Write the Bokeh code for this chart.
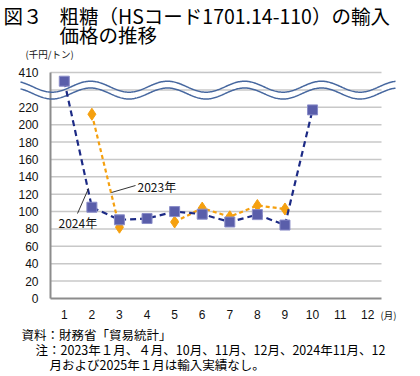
import numpy as np
from bokeh.plotting import figure
from bokeh.models import Range1d
from bokeh.core.properties import value
from bokeh.embed import file_html
from bokeh.resources import INLINE

# ---------------- data ----------------
months = [1, 2, 3, 4, 5, 6, 7, 8, 9, 10, 11, 12]
month_labels = ["1", "2", "3", "4", "5", "6", "7", "8", "9", "10", "11", "12"]
price_2024 = [400, 105, 90.5, 92, 100, 97, 88, 96.5, 84.5, 217, np.nan, np.nan]
price_2023 = [np.nan, 212, 82, np.nan, 88, 104, 94, 107, 103, np.nan, np.nan, np.nan]
ytick_values = [0, 20, 40, 60, 80, 100, 120, 140, 160, 180, 200, 220, 410]
series_names = ["2023年", "2024年"]

title_num = "図３"
title_line1 = "粗糖（HSコード1701.14-110）の輸入"
title_line2 = "価格の推移"
unit_label = "(千円/トン)"
month_unit = "(月)"
note_lines = ["資料：財務省「貿易統計」",
              "注：2023年１月、４月、10月、11月、12月、2024年11月、12",
              "月および2025年１月は輸入実績なし。"]

# ---------------- layout helpers ----------------
BREAK_LO, BREAK_TOP_VAL, BREAK_TOP_DISP = 240, 410, 260


def disp(v):
    """broken axis: values above the break are shifted down"""
    v = np.asarray(v, dtype=float)
    return np.where(v > BREAK_LO, BREAK_TOP_DISP - (BREAK_TOP_VAL - v), v)


PX_W = 331 / 12.0        # pixels per month
PX_H = 226 / 260.0       # pixels per unit


def X(px):
    return 0.5 + (np.asarray(px, dtype=float) - 50) / PX_W


def Y(py):
    return (298 - np.asarray(py, dtype=float)) / PX_H


W, H = 420, 376
p = figure(width=W, height=H, output_backend="svg", toolbar_location=None,
           x_axis_type=None, y_axis_type=None, min_border=0,
           x_range=Range1d(float(X(0)), float(X(W))),
           y_range=Range1d(float(Y(H)), float(Y(0))))
p.grid.visible = False
p.outline_line_color = None
p.background_fill_color = "white"
p.border_fill_color = "white"

JP = value("Noto Sans CJK JP")
NUM = value("Liberation Sans")

# gridlines
grid_disp = list(range(20, 261, 20))
p.segment(x0=[0.5] * len(grid_disp), x1=[12.5] * len(grid_disp),
          y0=grid_disp, y1=grid_disp, line_color="#c8c8c8", line_width=1.5)
# axis lines
p.segment(x0=[0.5, 0.5], x1=[0.5, 12.5], y0=[0, 0], y1=[260, 0],
          line_color="#8c8c8c", line_width=2)

# wave (axis break)
wx = np.linspace(20, 395, 400)
upper = 86.2 - 5.5 * np.cos(2 * np.pi * (wx - 90) / 77.0)
lower = upper + 6.8
for yy in (upper, lower):
    p.line(X(wx), Y(yy), line_color="#46679f", line_width=1.5)

# series 2023
p.line(months, disp(price_2023), line_color="#f5a00f", line_width=2.2, line_dash="4 3")
p.scatter(months, disp(price_2023), marker="diamond", size=12,
          fill_color="#f5a00f", line_color="#f5a00f")
# series 2024
p.line(months, disp(price_2024), line_color="#1c2a85", line_width=2.2, line_dash="6 4")
p.scatter(months, disp(price_2024), marker="square", size=10,
          fill_color="#5a5eaa", line_color="#8a8dc8", line_width=1)

# leader lines and series labels
p.segment(x0=X([135, 77]), y0=Y([185, 213]), x1=X([111, 88]), y1=Y([192, 188]),
          line_color="#333333", line_width=1)
p.text(x=X([137, 58]), y=Y([186, 222]), text=series_names, text_font=JP,
       text_font_size="12px", text_baseline="middle", text_align="left",
       text_color="#111111")

# y tick labels
p.text(x=[float(X(38))] * len(ytick_values), y=disp(ytick_values),
       text=[str(v) for v in ytick_values], text_font=NUM, text_font_size="12px",
       text_align="right", text_baseline="middle", text_color="#111111")
# x tick labels
p.text(x=months, y=[float(Y(314))] * len(months), text=month_labels, text_font=NUM,
       text_font_size="12px", text_align="center", text_baseline="middle",
       text_color="#111111")
# units
p.text(x=X([25, 380]), y=Y([53, 314]), text=[unit_label, month_unit], text_font=JP,
       text_font_size="9.5px", text_align="left", text_baseline="middle",
       text_color="#111111")

# title
p.text(x=X([3, 59, 59]), y=Y([14.5, 14.5, 34]), text=[title_num, title_line1, title_line2],
       text_font=JP, text_font_size="19.5px", text_align="left", text_baseline="middle",
       text_color="#000000")

# notes
p.text(x=X([21, 35, 49]), y=Y([334, 349, 364]), text=note_lines, text_font=JP,
       text_font_size="12.5px", text_align="left", text_baseline="middle",
       text_color="#000000")

open("out.html", "w").write(file_html(p, INLINE))
